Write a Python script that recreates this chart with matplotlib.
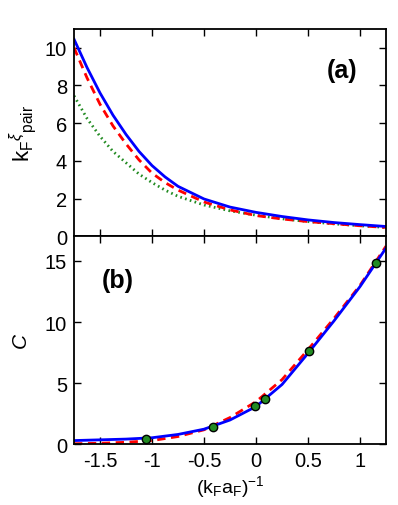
import numpy as np
import matplotlib.pyplot as plt

plt.rcParams['font.family'] = ['Liberation Sans', 'DejaVu Sans']
plt.rcParams['mathtext.fontset'] = 'custom'
plt.rcParams['mathtext.rm'] = 'Liberation Sans'
plt.rcParams['mathtext.it'] = 'Liberation Sans:italic'

# panel (a): pair size vs inverse scattering length
xa = [-1.75, -1.625, -1.5, -1.375, -1.25, -1.125, -1.0, -0.875, -0.75,
      -0.5, -0.25, 0.0, 0.25, 0.5, 0.75, 1.0, 1.25]
xi_blue = [10.45, 8.95, 7.6, 6.42, 5.4, 4.5, 3.75, 3.15, 2.65,
           1.98, 1.55, 1.27, 1.05, 0.87, 0.73, 0.62, 0.52]
xi_red = [10.0, 8.4, 7.0, 5.85, 4.9, 4.05, 3.35, 2.85, 2.45,
          1.82, 1.4, 1.1, 0.92, 0.78, 0.67, 0.56, 0.47]
xi_green = [7.45, 6.25, 5.3, 4.5, 3.9, 3.3, 2.85, 2.45, 2.12,
            1.66, 1.35, 1.12, 0.93, 0.78, 0.66, 0.56, 0.47]

# panel (b): contact C
xb = [-1.75, -1.5, -1.25, -1.0, -0.75, -0.5, -0.25, 0.0, 0.25, 0.5, 0.75, 1.0, 1.25]
c_blue = [0.32, 0.38, 0.44, 0.55, 0.82, 1.25, 2.0, 3.1, 4.9, 7.45, 10.1, 12.9, 16.05]
c_red = [0.06, 0.1, 0.18, 0.32, 0.65, 1.2, 2.2, 3.5, 5.3, 7.75, 10.3, 13.0, 16.2]
pts_x = [-1.06, -0.41, -0.01, 0.09, 0.51, 1.15]
pts_c = [0.48, 1.45, 3.15, 3.7, 7.62, 14.86]

green = '#228b22'

fig = plt.figure(figsize=(3.98, 5.06), dpi=100)
ax1 = fig.add_axes([0.186, 0.531, 0.784, 0.410])
ax2 = fig.add_axes([0.186, 0.1196, 0.784, 0.4114], sharex=ax1)

ax1.plot(xa, xi_green, color=green, lw=2, ls=(0, (0.6, 1.2)))
ax1.plot(xa, xi_red, color='red', lw=2, ls=(0, (3, 2)))
ax1.plot(xa, xi_blue, color='blue', lw=2)
ax1.set_ylim(0, 11)
ax1.set_yticks([0, 2, 4, 6, 8, 10])
ax1.set_ylabel(r'k$_\mathrm{F}{}^{\xi}{}_\mathrm{pair}$', fontsize=16, labelpad=4)
ax1.text(0.86, 0.80, '(a)', transform=ax1.transAxes, fontsize=18,
         fontweight='bold', ha='center', va='center')
ax1.tick_params(labelbottom=False)

ax2.plot(xb, c_red, color='red', lw=2, ls=(0, (3, 2)))
ax2.plot(xb, c_blue, color='blue', lw=2)
ax2.plot(pts_x, pts_c, 'o', color=green, mec='black', mew=1, ms=6)
ax2.set_ylim(0, 17)
ax2.set_yticks([0, 5, 10, 15])
ax2.set_ylabel(r'$C$', fontsize=15, labelpad=10)
ax2.text(0.14, 0.79, '(b)', transform=ax2.transAxes, fontsize=18,
         fontweight='bold', ha='center', va='center')
ax2.set_xlim(-1.75, 1.25)
ax2.set_xticks([-1.5, -1, -0.5, 0, 0.5, 1])
ax2.set_xticklabels(['-1.5', '-1', '-0.5', '0', '0.5', '1'])
ax2.set_xlabel(r'(k$_\mathrm{F}$a$_\mathrm{F}$)$^{-1}$', fontsize=14, labelpad=2)

for ax in (ax1, ax2):
    ax.tick_params(direction='in', top=True, right=True, length=5, width=1,
                   labelsize=14.5, pad=5)
    for s in ax.spines.values():
        s.set_linewidth(1.3)

fig.savefig('out.png', dpi=100)
